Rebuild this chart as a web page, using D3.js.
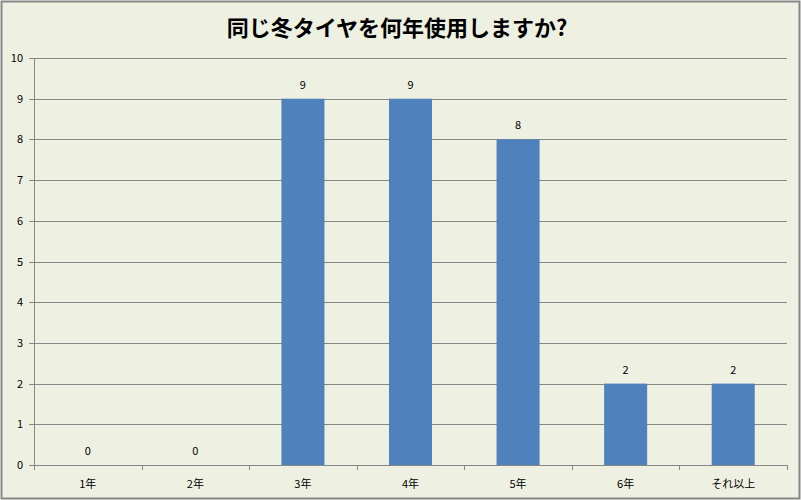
<!DOCTYPE html>
<html>
<head>
<meta charset="utf-8">
<script src="https://cdn.jsdelivr.net/npm/d3@7"></script>
<style>
    body { margin: 0; background: #ffffff; }
    text { font-family: "Noto Sans CJK JP", "DejaVu Sans", sans-serif; }
</style>
</head>
<body>
<div id="chart"></div>
<script>
var TITLE = "同じ冬タイヤを何年使用しますか?";
var CATEGORIES = ["1年", "2年", "3年", "4年", "5年", "6年", "それ以上"];
var VALUES = [0, 0, 9, 9, 8, 2, 2];
var Y_TICKS = [0, 1, 2, 3, 4, 5, 6, 7, 8, 9, 10];

var W = 801, H = 500;
var margin = {
    top: 58,
    right: 14,
    bottom: 35,
    left: 34
};
var width = W - margin.left - margin.right,
    height = H - margin.top - margin.bottom;

var root = d3.select("#chart").append("svg")
    .attr("width", W)
    .attr("height", H);

//background + frame
root.append("rect")
    .attr("x", 1.5)
    .attr("y", 1.5)
    .attr("width", W - 3)
    .attr("height", H - 3)
    .style("fill", "#eef0e1")
    .style("stroke", "#868686")
    .style("stroke-width", 2);

root.append("text")
    .attr("x", 397)
    .attr("y", 36)
    .attr("text-anchor", "middle")
    .style("font-size", "22px")
    .style("font-weight", "bold")
    .style("fill", "#000")
    .text(TITLE);

var svg = root.append("g")
    .attr("transform", "translate(" + margin.left + "," + margin.top + ")");

var x = d3.scaleBand()
    .domain(CATEGORIES)
    .range([0, width])
    .paddingInner(0.6)
    .paddingOuter(0.3);

var xEdge = d3.scaleLinear()
    .domain([0, CATEGORIES.length])
    .range([0, width]);

var y = d3.scaleLinear()
    .domain([0, 10])
    .range([height, 0]);

//gridlines
svg.selectAll("line.grid")
    .data(Y_TICKS)
    .enter().append("line")
    .attr("class", "grid")
    .attr("x1", -5)
    .attr("x2", width)
    .attr("y1", function (d) { return Math.round(y(d)) + 0.5; })
    .attr("y2", function (d) { return Math.round(y(d)) + 0.5; })
    .style("stroke", "#868686")
    .style("stroke-width", 1);

//bars
svg.selectAll("rect.bar")
    .data(VALUES)
    .enter().append("rect")
    .attr("class", "bar")
    .attr("x", function (d, i) { return x(CATEGORIES[i]); })
    .attr("y", function (d) { return y(d); })
    .attr("width", x.bandwidth())
    .attr("height", function (d) { return height - y(d); })
    .style("fill", "#4f81bd");

//value labels
svg.selectAll("text.val")
    .data(VALUES)
    .enter().append("text")
    .attr("class", "val")
    .attr("x", function (d, i) { return x(CATEGORIES[i]) + x.bandwidth() / 2; })
    .attr("y", function (d) { return y(d) - 10; })
    .attr("text-anchor", "middle")
    .style("font-size", "11px")
    .style("fill", "#000")
    .text(function (d) { return d; });

//y axis
svg.append("line")
    .attr("x1", 0.5).attr("x2", 0.5)
    .attr("y1", 0).attr("y2", height)
    .style("stroke", "#868686");

svg.selectAll("text.ylab")
    .data(Y_TICKS)
    .enter().append("text")
    .attr("class", "ylab")
    .attr("x", -11)
    .attr("y", function (d) { return y(d) + 4; })
    .attr("text-anchor", "end")
    .style("font-size", "11px")
    .style("fill", "#000")
    .text(function (d) { return d; });

//x axis ticks between categories
svg.selectAll("line.xtick")
    .data(d3.range(CATEGORIES.length + 1))
    .enter().append("line")
    .attr("class", "xtick")
    .attr("x1", function (d) { return Math.round(xEdge(d)) + 0.5; })
    .attr("x2", function (d) { return Math.round(xEdge(d)) + 0.5; })
    .attr("y1", height)
    .attr("y2", height + 5)
    .style("stroke", "#868686");

svg.selectAll("text.xlab")
    .data(CATEGORIES)
    .enter().append("text")
    .attr("class", "xlab")
    .attr("x", function (d) { return x(d) + x.bandwidth() / 2; })
    .attr("y", height + 23)
    .attr("text-anchor", "middle")
    .style("font-size", "11px")
    .style("fill", "#000")
    .text(function (d) { return d; });
</script>
</body>
</html>
